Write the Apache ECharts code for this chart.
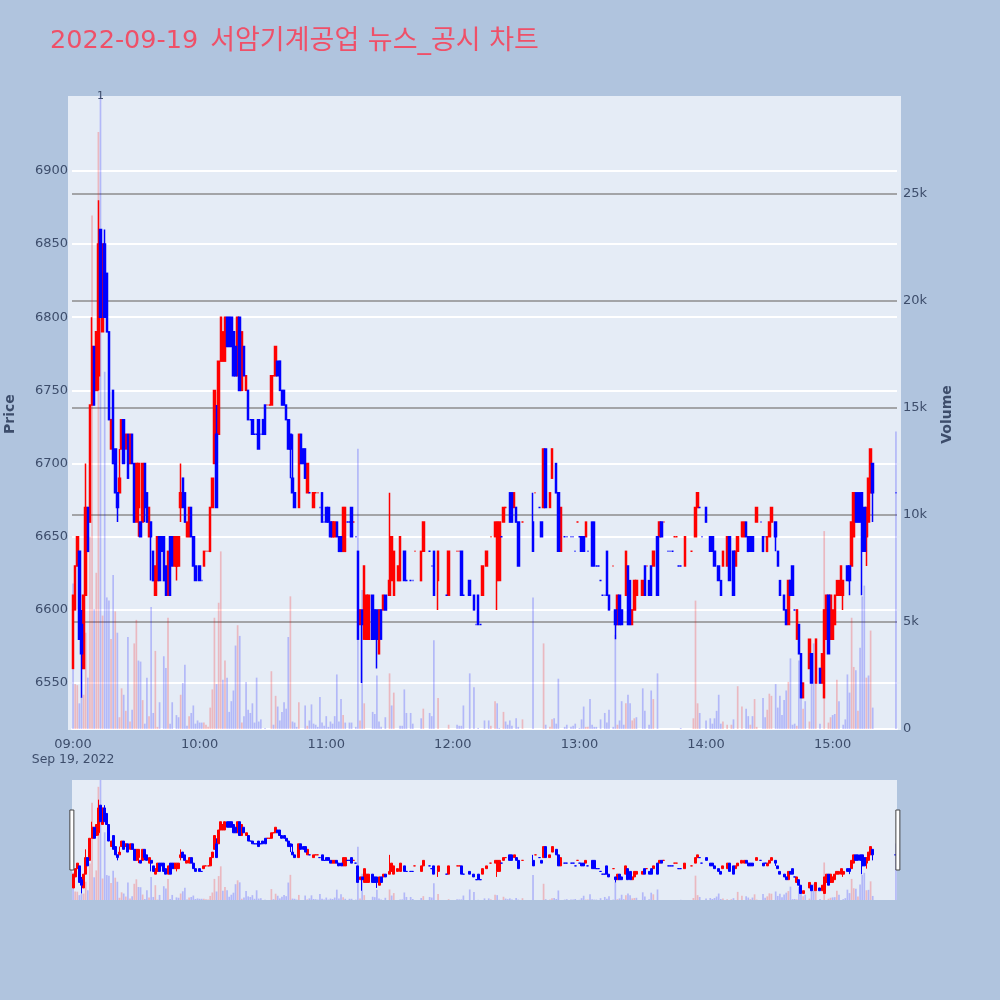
<!DOCTYPE html>
<html><head><meta charset="utf-8">
<script src="https://cdn.jsdelivr.net/npm/echarts@6/dist/echarts.min.js"></script>
<style>html,body{margin:0;padding:0;background:#b0c4de}#c{width:1000px;height:1000px}</style>
</head><body><div id="c"></div>
<script>
const titleDate = '2022-09-19';
const titleName = '서암기계공업 뉴스_공시 차트';
const dateLabel = 'Sep 19, 2022';
const priceRange = [6518.6, 6949];
const volumeRange = [0, 29580];
const annotationMinute = 13, annotationText = '1';
// rows: minute after 09:00, open, close, low, high
const candlesH09 = [[0,6560,6610,6560,6610],[1,6600,6630,6600,6630],[2,6630,6650,6630,6650],[3,6640,6580,6580,6640],[4,6590,6570,6540,6600],[5,6560,6610,6560,6610],[6,6610,6670,6610,6700],[7,6670,6640,6640,6670],[8,6660,6740,6660,6740],[9,6740,6780,6740,6800],[10,6780,6740,6740,6780],[11,6750,6790,6750,6790],[12,6760,6850,6750,6880],[13,6860,6800,6800,6860],[14,6790,6850,6790,6850],[15,6850,6800,6800,6860],[16,6830,6790,6790,6830],[17,6790,6730,6730,6790],[18,6710,6730,6710,6730],[19,6750,6700,6700,6750],[20,6710,6680,6680,6710],[21,6680,6670,6660,6680],[22,6680,6690,6680,6710],[23,6710,6730,6710,6730],[24,6730,6700,6700,6730],[25,6710,6720,6710,6720],[26,6720,6690,6690,6720],[27,6700,6720,6700,6720],[28,6720,6700,6700,6720],[29,6700,6660,6660,6700],[30,6660,6700,6660,6700],[31,6670,6700,6650,6700],[32,6660,6650,6650,6660],[33,6660,6700,6660,6700],[34,6700,6670,6660,6700],[35,6680,6660,6660,6680],[36,6650,6670,6650,6670],[37,6660,6650,6620,6660],[38,6640,6620,6620,6640],[39,6610,6630,6610,6630],[40,6620,6650,6620,6650],[41,6650,6620,6620,6650],[42,6650,6640,6640,6650],[43,6650,6620,6620,6650],[44,6630,6610,6610,6630],[45,6610,6640,6610,6640],[46,6650,6610,6610,6650],[47,6650,6630,6630,6650],[48,6630,6650,6630,6650],[49,6630,6650,6620,6650],[50,6630,6650,6630,6650],[51,6670,6680,6660,6700],[52,6690,6670,6670,6690],[53,6680,6660,6660,6680],[54,6650,6660,6650,6660],[55,6650,6670,6650,6670],[56,6670,6650,6650,6670],[57,6650,6630,6630,6650],[58,6630,6620,6620,6630]];
const candlesH10 = [[60,6630,6620,6620,6630],[61,6620,6620,6620,6620],[62,6630,6640,6630,6640],[63,6640,6640,6640,6640],[64,6640,6640,6640,6640],[65,6640,6670,6640,6670],[66,6670,6690,6670,6690],[67,6700,6750,6700,6750],[68,6720,6670,6670,6740],[69,6720,6770,6720,6770],[70,6770,6800,6770,6800],[71,6770,6790,6770,6790],[72,6770,6800,6770,6800],[73,6800,6780,6780,6800],[74,6800,6780,6780,6800],[75,6800,6780,6780,6800],[76,6790,6760,6760,6790],[77,6780,6760,6760,6780],[78,6760,6800,6760,6800],[79,6800,6750,6750,6800],[80,6750,6790,6750,6790],[81,6780,6760,6760,6780],[82,6750,6760,6750,6760],[83,6750,6730,6730,6750],[84,6730,6730,6730,6730],[85,6730,6720,6720,6730],[86,6720,6720,6720,6720],[87,6720,6720,6720,6720],[88,6730,6710,6710,6730],[89,6720,6720,6720,6720],[90,6730,6720,6720,6730],[91,6740,6720,6720,6740],[92,6740,6740,6740,6740],[93,6740,6740,6740,6740],[94,6740,6760,6740,6760],[95,6760,6760,6760,6760],[96,6760,6780,6760,6780],[97,6770,6760,6760,6770],[98,6770,6750,6750,6770],[99,6750,6740,6740,6750],[100,6750,6740,6740,6750],[101,6740,6730,6730,6740],[102,6730,6710,6710,6730],[103,6720,6710,6690,6720],[104,6690,6680,6680,6720],[105,6680,6670,6670,6680],[107,6670,6720,6670,6720],[108,6720,6700,6700,6720],[109,6710,6700,6700,6710],[110,6710,6690,6690,6710],[111,6680,6700,6680,6700],[112,6680,6680,6680,6680],[114,6670,6680,6670,6680],[115,6680,6680,6680,6680],[116,6680,6680,6680,6680],[117,6670,6670,6670,6670],[118,6680,6660,6660,6680],[119,6660,6660,6660,6660]];
const candlesH11 = [[120,6670,6660,6660,6670],[121,6670,6660,6660,6670],[122,6660,6650,6650,6660],[123,6650,6660,6650,6660],[124,6650,6660,6650,6660],[125,6660,6650,6650,6660],[126,6650,6640,6640,6650],[127,6650,6640,6640,6650],[128,6640,6670,6640,6670],[129,6640,6670,6640,6670],[130,6660,6660,6660,6660],[131,6660,6660,6660,6660],[132,6670,6650,6650,6670],[133,6660,6660,6660,6660],[134,6650,6650,6650,6650],[135,6640,6580,6580,6640],[136,6590,6600,6590,6600],[137,6600,6590,6550,6600],[138,6580,6630,6580,6630],[139,6580,6610,6580,6610],[140,6580,6610,6580,6610],[142,6610,6580,6580,6610],[143,6600,6580,6580,6600],[144,6600,6580,6560,6600],[145,6570,6600,6570,6600],[146,6600,6580,6580,6600],[147,6600,6610,6600,6610],[148,6610,6600,6600,6610],[150,6610,6620,6610,6680],[151,6620,6650,6620,6650],[152,6610,6640,6610,6640],[154,6620,6630,6620,6630],[155,6620,6650,6620,6650],[157,6640,6620,6620,6640],[158,6620,6620,6620,6620],[160,6620,6620,6620,6620],[161,6620,6620,6620,6620],[162,6640,6640,6640,6640],[165,6620,6640,6620,6640],[166,6640,6660,6640,6660],[169,6640,6640,6640,6640],[170,6630,6630,6630,6630],[171,6640,6610,6610,6640],[173,6620,6640,6600,6640],[177,6610,6610,6610,6610],[178,6610,6640,6610,6640]];
const candlesH12 = [[182,6640,6640,6640,6640],[183,6640,6640,6640,6640],[184,6640,6610,6610,6640],[185,6610,6610,6610,6610],[188,6620,6610,6610,6620],[190,6610,6600,6600,6610],[191,6590,6590,6590,6590],[192,6610,6590,6590,6610],[193,6590,6590,6590,6590],[194,6610,6630,6610,6630],[196,6630,6640,6630,6640],[198,6650,6650,6650,6650],[200,6650,6660,6650,6660],[201,6620,6660,6600,6660],[202,6620,6660,6620,6660],[203,6650,6650,6650,6650],[204,6660,6670,6660,6670],[205,6670,6670,6670,6670],[207,6680,6660,6660,6680],[208,6680,6660,6660,6680],[209,6670,6680,6670,6680],[210,6670,6660,6660,6670],[211,6660,6630,6630,6660],[213,6660,6660,6660,6660],[218,6660,6640,6640,6680],[219,6680,6680,6680,6680],[221,6670,6670,6670,6670],[222,6660,6650,6650,6660],[223,6670,6710,6670,6710],[224,6710,6670,6670,6710],[226,6670,6680,6670,6680],[227,6690,6710,6690,6710],[229,6700,6680,6680,6700],[230,6680,6640,6640,6680],[231,6640,6670,6640,6670],[233,6650,6650,6650,6650],[234,6650,6650,6650,6650],[236,6650,6650,6650,6650],[237,6650,6650,6650,6650],[238,6640,6640,6640,6640],[239,6660,6660,6660,6660]];
const candlesH13 = [[240,6650,6650,6650,6650],[241,6650,6640,6640,6650],[242,6650,6640,6640,6650],[243,6650,6660,6650,6660],[244,6640,6640,6640,6640],[246,6660,6630,6630,6660],[247,6660,6630,6630,6660],[248,6630,6630,6630,6630],[249,6630,6630,6630,6630],[250,6620,6620,6620,6620],[251,6610,6610,6610,6610],[252,6610,6610,6610,6610],[253,6640,6610,6610,6640],[254,6610,6600,6600,6610],[256,6630,6630,6630,6630],[257,6600,6590,6580,6600],[258,6590,6610,6590,6610],[259,6610,6590,6590,6610],[260,6600,6590,6590,6600],[262,6610,6640,6610,6640],[263,6630,6590,6590,6630],[264,6620,6590,6590,6620],[265,6590,6600,6590,6600],[266,6600,6620,6600,6620],[267,6610,6620,6610,6620],[270,6610,6620,6610,6620],[271,6630,6610,6610,6630],[272,6630,6630,6630,6630],[273,6620,6610,6610,6620],[274,6630,6610,6610,6630],[275,6630,6640,6630,6640],[277,6650,6610,6610,6650],[278,6650,6660,6650,6660],[279,6660,6650,6650,6660],[280,6660,6660,6660,6660],[282,6640,6640,6640,6640],[283,6640,6640,6640,6640],[284,6640,6640,6640,6640],[285,6650,6650,6650,6650],[286,6650,6650,6650,6650],[287,6630,6630,6630,6630],[288,6630,6630,6630,6630],[290,6630,6650,6630,6650],[293,6640,6640,6640,6640],[295,6650,6670,6650,6670],[296,6670,6680,6670,6680],[297,6670,6670,6670,6670],[298,6650,6650,6650,6650]];
const candlesH14 = [[300,6670,6660,6660,6670],[302,6650,6640,6640,6650],[303,6650,6640,6640,6650],[304,6640,6630,6630,6640],[306,6630,6620,6620,6630],[307,6620,6610,6610,6620],[308,6630,6640,6630,6640],[310,6630,6650,6630,6650],[311,6650,6620,6620,6650],[313,6640,6610,6610,6640],[314,6630,6640,6630,6640],[315,6640,6650,6640,6650],[317,6650,6660,6650,6660],[318,6650,6660,6650,6660],[319,6660,6650,6650,6660],[320,6650,6640,6640,6650],[321,6650,6640,6640,6650],[322,6650,6640,6640,6650],[324,6660,6670,6660,6670],[326,6660,6660,6660,6660],[327,6650,6640,6640,6650],[328,6650,6650,6650,6650],[329,6640,6650,6640,6650],[330,6650,6660,6650,6660],[331,6660,6670,6660,6670],[333,6660,6650,6640,6660],[334,6640,6630,6630,6640],[335,6620,6610,6610,6620],[337,6610,6600,6600,6610],[338,6600,6590,6590,6600],[339,6590,6620,6590,6620],[340,6620,6610,6610,6620],[341,6630,6610,6610,6630],[342,6600,6600,6600,6600],[343,6580,6600,6580,6600],[344,6590,6570,6570,6590],[345,6570,6540,6540,6570],[346,6540,6550,6540,6550],[349,6560,6580,6560,6580],[350,6570,6550,6550,6570],[352,6550,6580,6550,6580],[354,6560,6550,6550,6560],[355,6550,6570,6550,6570],[356,6540,6600,6540,6600],[357,6580,6610,6580,6610],[358,6610,6570,6570,6610],[359,6580,6610,6580,6610]];
const candlesH15 = [[360,6580,6600,6580,6600],[361,6590,6610,6590,6610],[362,6610,6620,6610,6620],[363,6610,6620,6610,6620],[364,6610,6630,6610,6630],[365,6610,6620,6600,6620],[367,6630,6620,6620,6630],[368,6630,6620,6610,6630],[369,6630,6660,6630,6660],[370,6650,6680,6650,6680],[371,6680,6660,6660,6680],[372,6680,6660,6660,6680],[373,6680,6660,6660,6680],[374,6680,6640,6610,6680],[375,6670,6640,6640,6670],[376,6650,6670,6630,6670],[377,6660,6690,6660,6690],[378,6680,6710,6680,6710],[379,6700,6680,6660,6700],[390,6680,6680,6680,6680]];
const redDojiMinutes = [63,64,92,93,95,115,116,133,162,182,183,198,205,213,219,239,256,272,280,285,286,293];
// [minute, traded volume]
const upVolumes = [[1,2100],[2,2050],[5,1600],[6,4500],[8,9000],[9,24000],[11,7300],[12,27900],[14,5300],[18,4200],[20,5500],[22,550],[23,1900],[25,850],[27,350],[29,4000],[30,5100],[33,1350],[36,600],[39,3650],[40,100],[45,5200],[51,1600],[55,600],[62,300],[63,200],[64,100],[65,1000],[66,1850],[67,5200],[69,5900],[70,8300],[72,3200],[78,4850],[80,300],[94,2700],[96,1550],[103,6200],[107,1250],[111,150],[128,650],[136,400],[138,1200],[150,2600],[152,1700],[166,950],[173,1450],[178,200],[198,150],[200,1300],[204,800],[213,450],[223,4000],[226,100],[227,450],[243,100],[244,100],[258,200],[262,1200],[265,400],[266,500],[275,1400],[294,500],[295,6000],[296,1200],[308,350],[310,200],[312,200],[315,2000],[317,1050],[321,200],[323,1400],[324,100],[329,900],[330,1650],[331,1550],[339,2200],[343,150],[346,950],[349,350],[352,2100],[356,9250],[358,300],[359,550],[362,2300],[369,5200],[370,2900],[372,850],[376,2400],[378,4600]];
const downVolumes = [[0,6800],[3,1200],[4,1500],[7,2400],[10,5600],[13,31000],[15,16700],[16,6150],[17,6000],[19,7200],[21,4500],[24,1600],[26,4300],[28,900],[31,3200],[32,3150],[34,250],[35,2400],[37,5700],[38,750],[41,1250],[43,3400],[44,2850],[46,250],[47,1250],[49,650],[50,550],[52,2150],[53,3000],[54,150],[56,750],[57,1100],[58,250],[59,400],[60,300],[61,300],[68,2100],[71,2300],[73,2400],[74,800],[75,1300],[76,1800],[77,3900],[79,4350],[81,600],[82,2200],[83,900],[84,750],[85,1200],[86,300],[87,2400],[88,350],[89,450],[91,50],[95,200],[97,1050],[98,400],[99,800],[100,1250],[101,950],[102,4300],[104,350],[105,300],[106,100],[110,1100],[112,400],[113,1150],[114,250],[115,200],[116,100],[117,1500],[118,300],[119,150],[120,600],[121,100],[122,350],[123,250],[124,600],[125,2550],[126,350],[127,1400],[129,300],[131,300],[132,300],[134,100],[135,13100],[137,6500],[142,800],[143,700],[144,2500],[145,350],[146,100],[148,550],[151,1100],[155,150],[156,150],[157,1850],[158,750],[160,750],[161,250],[165,500],[169,750],[170,600],[171,4150],[182,200],[183,150],[184,150],[185,1100],[188,2600],[190,1950],[192,50],[195,400],[197,400],[201,1200],[202,50],[205,350],[206,200],[207,400],[208,150],[210,500],[211,100],[218,6150],[224,200],[228,500],[229,250],[230,2350],[233,100],[234,200],[236,100],[237,150],[238,250],[240,50],[241,450],[242,1050],[245,1400],[246,200],[247,100],[248,100],[250,450],[252,750],[253,300],[254,900],[256,100],[257,4400],[259,400],[260,1300],[261,200],[263,1600],[264,1200],[267,550],[270,1900],[271,850],[273,200],[274,1800],[277,2600],[288,50],[297,750],[300,400],[302,500],[303,250],[304,500],[305,850],[306,1600],[307,250],[313,450],[319,950],[320,600],[322,600],[327,1450],[328,550],[333,2100],[334,1000],[335,1550],[336,650],[337,1350],[338,1800],[340,3300],[341,200],[342,250],[344,3200],[345,2900],[347,1300],[350,3400],[351,4000],[354,250],[360,650],[361,700],[363,1300],[365,200],[366,450],[367,2550],[368,1700],[371,2750],[373,3800],[374,6200],[375,6700],[377,2500],[379,1000],[390,13900]];

const MINUTE_COUNT = 391;
const pad = n => String(n).padStart(2, '0');
const categories = Array.from({length: MINUTE_COUNT}, (_, i) => pad(9 + Math.floor(i / 60)) + ':' + pad(i % 60));
const allCandles = [].concat(candlesH09, candlesH10, candlesH11, candlesH12, candlesH13, candlesH14, candlesH15);
const isRed = r => r[2] > r[1] || (r[2] === r[1] && redDojiMinutes.includes(r[0]));
function candleSeriesData(pick) {
  const out = categories.map(() => '-');
  allCandles.filter(pick).forEach(r => { out[r[0]] = [r[1], r[2], r[3], r[4]]; });
  return out;
}
function volumeSeriesData(rows) {
  const out = categories.map(() => '-');
  rows.forEach(r => { out[r[0]] = r[1]; });
  return out;
}
const redCandles = candleSeriesData(isRed);
const blueCandles = candleSeriesData(r => !isRed(r));
const upVol = volumeSeriesData(upVolumes);
const downVol = volumeSeriesData(downVolumes);

const RED = '#ff0000', BLUE = '#0000ff', TXT = '#3d4d6b';
const FONT = '"DejaVu Sans", "Noto Sans CJK KR", sans-serif';
function candle(data, color, xi, yi, bw, lw, z) {
  return {type:'candlestick', data, xAxisIndex:xi, yAxisIndex:yi, barWidth:bw, z, silent:true, animation:false,
    itemStyle:{color, color0:color, borderColor:color, borderColor0:color, borderColorDoji:color, borderWidth:lw}};
}
function bars(data, color, xi, yi, w, extra) {
  return Object.assign({type:'bar', data, xAxisIndex:xi, yAxisIndex:yi, barWidth:w, barGap:'-100%', z:1, silent:true, animation:false,
    itemStyle:{color, opacity:0.22}}, extra || {});
}
const chart = echarts.init(document.getElementById('c'), null, {renderer:'canvas'});
chart.setOption({
  animation:false,
  backgroundColor:'#b0c4de',
  textStyle:{fontFamily:FONT},
  title:{text:'{a|'+titleDate+'}{b|'+titleName+'}', left:50, top:28, padding:0,
    textStyle:{color:'#ef5068', fontSize:25.5, fontWeight:'normal', fontFamily:FONT,
      rich:{a:{color:'#ef5068', fontSize:25.5, fontFamily:FONT}, b:{color:'#ef5068', fontSize:27, fontFamily:FONT, padding:[0,0,0,12]}}}},
  graphic:{elements:[{type:'rect', z:-10, silent:true, shape:{x:68,y:96,width:833,height:634}, style:{fill:'#e5ecf6'}}]},
  grid:[
    {left:72, width:825, top:96, height:633, outerBoundsMode:'none'},
    {left:72, width:825, top:780, height:120, show:true, backgroundColor:'#e5ecf6', borderWidth:0, outerBoundsMode:'none'},
    {left:72, width:825, top:99.2, height:629.8, outerBoundsMode:'none'}
  ],
  xAxis:[
    {type:'category', gridIndex:0, data:categories, boundaryGap:true,
     axisLine:{show:true, lineStyle:{color:'#ffffff', width:2}}, axisTick:{show:false}, splitLine:{show:false},
     axisLabel:{color:TXT, fontSize:13, lineHeight:15, margin:8, hideOverlap:false, interval:(i)=>i%60===0 && i<=360,
       formatter:(v,i)=> i===0 ? v+'\n{d|'+dateLabel+'}' : v,
       rich:{d:{color:TXT, fontSize:12.4, lineHeight:15, fontFamily:FONT}}}},
    {type:'category', gridIndex:1, data:categories, boundaryGap:true, show:false},
    {type:'category', gridIndex:2, data:categories, boundaryGap:true, show:false}
  ],
  yAxis:[
    {type:'value', gridIndex:2, min:priceRange[0], max:priceRange[1], splitNumber:9, position:'left',
     name:'Price', nameLocation:'middle', nameRotate:90, nameGap:55, nameTextStyle:{color:TXT, fontWeight:'bold', fontSize:14},
     axisLine:{show:false}, axisTick:{show:false},
     axisLabel:{color:TXT, fontSize:13, margin:4, showMinLabel:false, showMaxLabel:false, formatter:v=>String(v)},
     splitLine:{show:true, showMinLine:false, showMaxLine:false, lineStyle:{color:'#ffffff', width:2}}},
    {type:'value', gridIndex:0, min:volumeRange[0], max:volumeRange[1], splitNumber:6, position:'right',
     name:'Volume', nameLocation:'middle', nameRotate:90, nameGap:43, nameTextStyle:{color:TXT, fontWeight:'bold', fontSize:14, padding:[0,4,0,0]},
     axisLine:{show:false}, axisTick:{show:false},
     axisLabel:{color:TXT, fontSize:13, margin:6, showMaxLabel:false, formatter:v=> v===0?'0':(v/1000)+'k'},
     splitLine:{show:true, showMinLine:false, showMaxLine:false, lineStyle:{color:'#8c8c8c', width:1.5}}},
    {type:'value', gridIndex:1, min:priceRange[0]-2.2, max:priceRange[1]+2.2, show:false},
    {type:'value', gridIndex:1, min:volumeRange[0], max:volumeRange[1], show:false}
  ],
  dataZoom:[{type:'slider', xAxisIndex:[0], filterMode:'none', start:0, end:100, left:70.3, width:828, top:780, height:120, z:20,
    backgroundColor:'transparent', borderColor:'transparent', fillerColor:'transparent', showDetail:false, showDataShadow:false,
    brushSelect:false, moveHandleSize:0, handleIcon:'path://M0 0H4V60H0Z', handleSize:'50%',
    handleStyle:{color:'#ffffff', borderColor:'#444444', borderWidth:1}, zoomLock:true}],
  series:[
    bars(upVol, RED, 0, 1, 1.7),
    bars(downVol, BLUE, 0, 1, 1.7, {markPoint:{symbol:'circle', symbolSize:0, silent:true, animation:false,
      data:[{coord:[categories[annotationMinute], volumeRange[1]]}],
      label:{show:true, formatter:annotationText, position:'inside', color:TXT, fontSize:11}}}),
    candle(redCandles, RED, 2, 0, 2, 1.5, 3),
    candle(blueCandles, BLUE, 2, 0, 2, 1.5, 4),
    bars(upVol, RED, 1, 3, 1.7),
    bars(downVol, BLUE, 1, 3, 1.7),
    candle(redCandles, RED, 1, 2, 2.5, 1, 3),
    candle(blueCandles, BLUE, 1, 2, 2.5, 1, 4)
  ]
});
</script></body></html>
